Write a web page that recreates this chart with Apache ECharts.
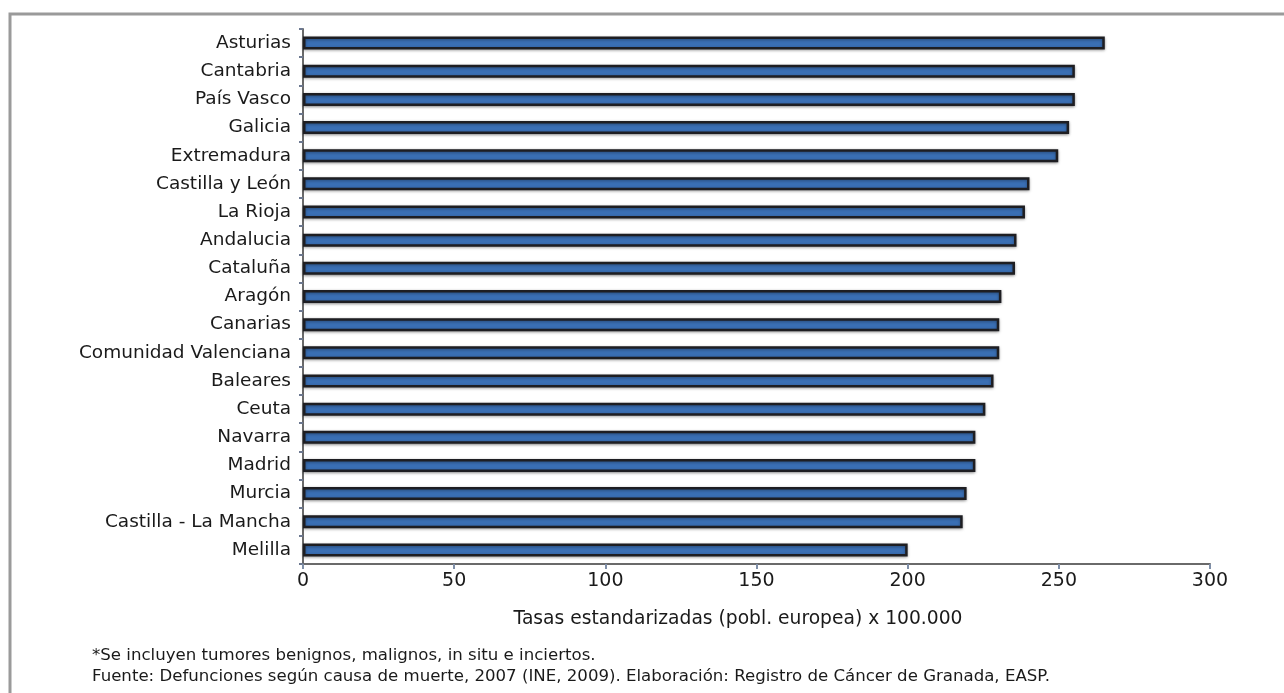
<!DOCTYPE html>
<html>
<head>
<meta charset="utf-8">
<script src="https://cdn.jsdelivr.net/npm/echarts@6/dist/echarts.min.js"></script>
<style>
html,body{margin:0;padding:0;background:#fff;}
#chart{width:1284px;height:693px;}
</style>
</head>
<body>
<div id="chart"></div>
<script>
const categories = ["Asturias","Cantabria","País Vasco","Galicia","Extremadura","Castilla y León","La Rioja","Andalucia","Cataluña","Aragón","Canarias","Comunidad Valenciana","Baleares","Ceuta","Navarra","Madrid","Murcia","Castilla - La Mancha","Melilla"];
const values = [265.2,255.3,255.3,253.4,249.8,240.3,238.8,236.0,235.5,231.0,230.3,230.3,228.4,225.7,222.4,222.4,219.5,218.2,200.0];
const xTicks = {min:0, max:300, interval:50};
const axisTitle = "Tasas estandarizadas (pobl. europea) x 100.000";
const note1 = "*Se incluyen tumores benignos, malignos, in situ e inciertos.";
const note2 = "Fuente: Defunciones según causa de muerte, 2007 (INE, 2009). Elaboración: Registro de Cáncer de Granada, EASP.";

const FONT = "'DejaVu Sans', sans-serif";
const chart = echarts.init(document.getElementById('chart'));
chart.setOption({
  animation:false,
  backgroundColor:'#fff',
  grid:{left:303,right:74,top:29,bottom:129,containLabel:false},
  xAxis:{
    type:'value', min:xTicks.min, max:xTicks.max, interval:xTicks.interval,
    splitLine:{show:false},
    axisLine:{show:true,lineStyle:{color:'#6a6a6a',width:2}},
    axisTick:{show:true,length:5,lineStyle:{color:'#7f8fa8',width:2}},
    axisLabel:{fontSize:19,color:'#1a1a1a',fontFamily:FONT,margin:8}
  },
  yAxis:{
    type:'category', inverse:true, data:categories,
    axisLine:{show:true,lineStyle:{color:'#6a6a6a',width:2}},
    axisTick:{show:true,length:4,alignWithLabel:false,lineStyle:{color:'#6c7890',width:2}},
    axisLabel:{fontSize:18.5,color:'#1a1a1a',fontFamily:FONT,margin:12}
  },
  series:[{
    type:'bar', data:values, barWidth:13,
    itemStyle:{color:'#3a6fb4',borderColor:'#1e1e22',borderWidth:2.5,
      shadowColor:'rgba(0,0,0,0.35)',shadowBlur:3,shadowOffsetY:1}
  }],
  graphic:[
    {type:'rect',shape:{x:10,y:14,width:1290,height:700},style:{fill:'none',stroke:'#9a9a9a',lineWidth:3},silent:true},
    {type:'text',x:738,y:619,style:{text:axisTitle,fontSize:18.7,fontFamily:FONT,fill:'#1a1a1a',textAlign:'center',textVerticalAlign:'middle'}},
    {type:'text',x:92,y:656,style:{text:note1,fontSize:16.6,fontFamily:FONT,fill:'#1a1a1a',textAlign:'left',textVerticalAlign:'middle'}},
    {type:'text',x:92,y:677,style:{text:note2,fontSize:16.6,fontFamily:FONT,fill:'#1a1a1a',textAlign:'left',textVerticalAlign:'middle'}}
  ]
});
</script>
</body>
</html>
